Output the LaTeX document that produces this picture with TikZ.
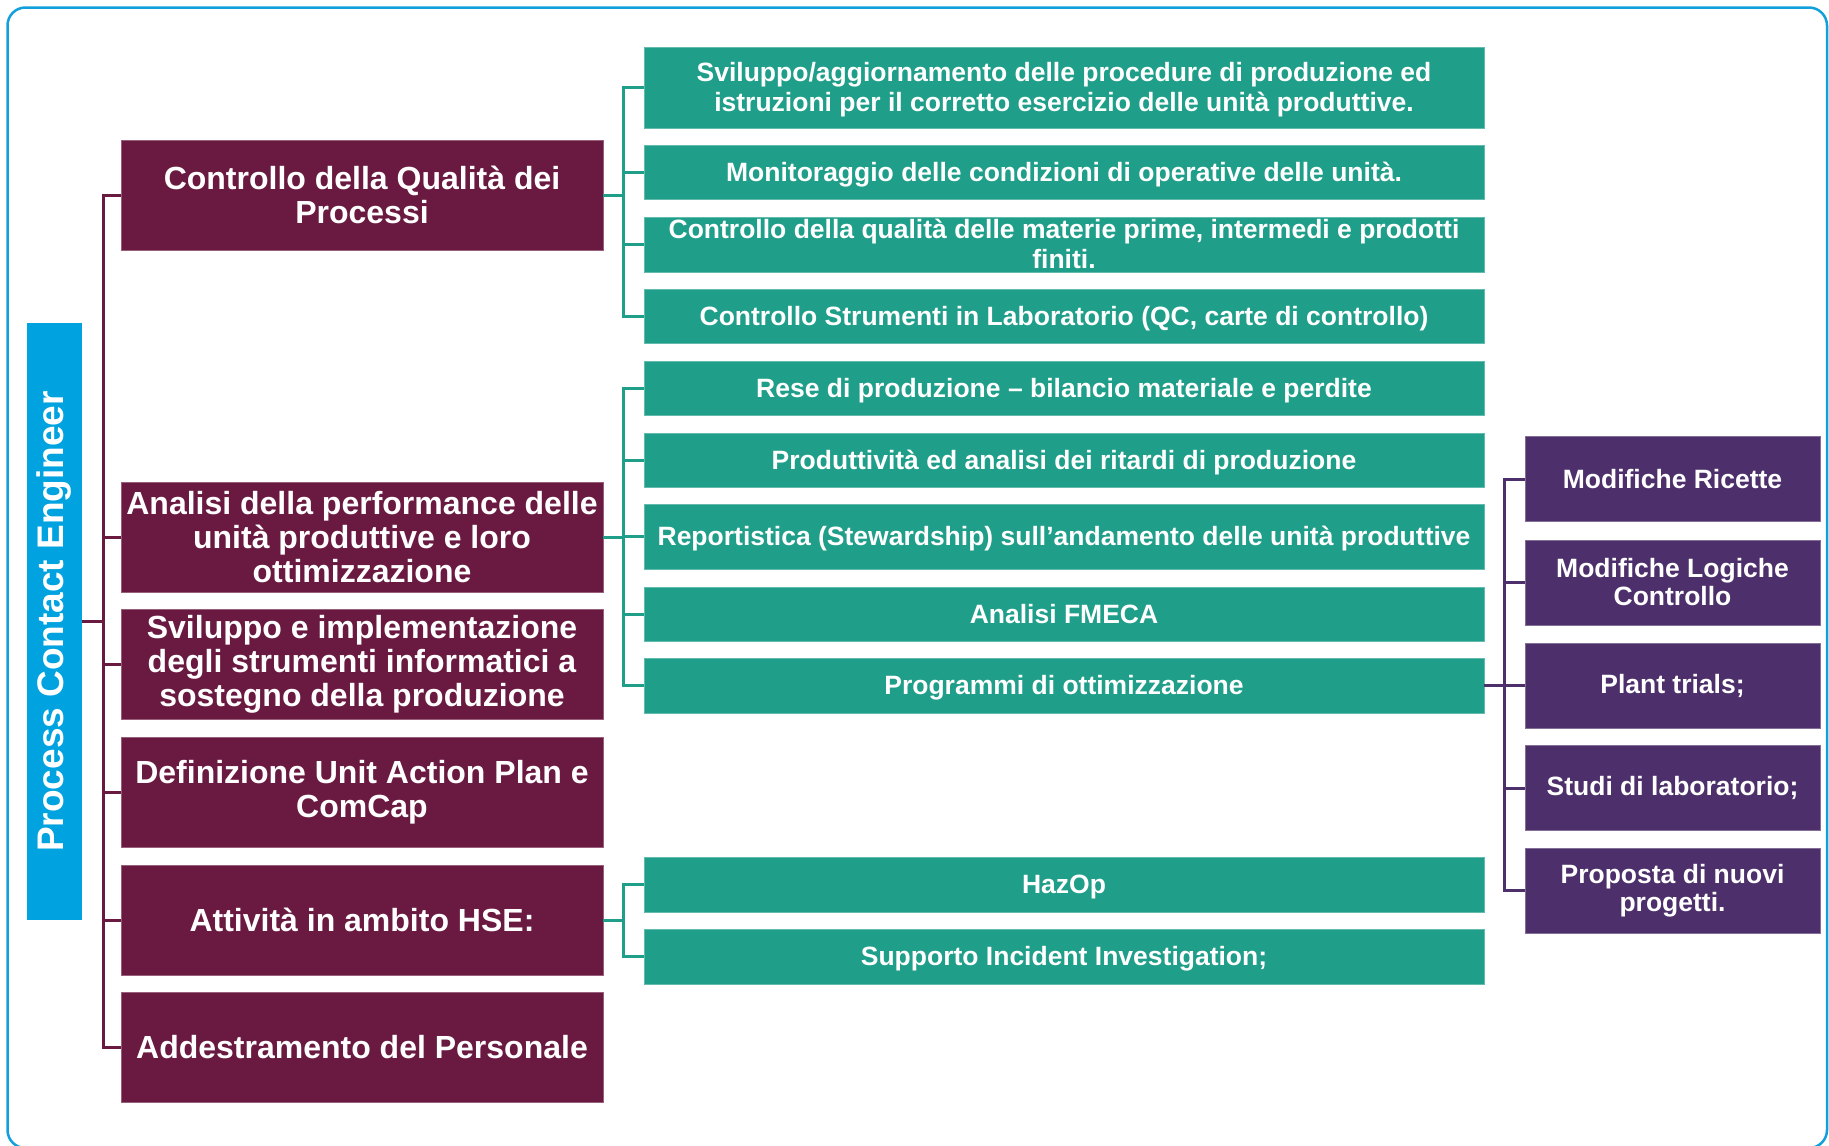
\documentclass[tikz,border=0pt]{standalone}
\usepackage{fontspec}
\setmainfont{Liberation Sans}
\definecolor{pceblue}{RGB}{0,163,224}
\definecolor{framecol}{RGB}{18,160,220}
\definecolor{actmaroon}{RGB}{106,26,65}
\definecolor{actgreen}{RGB}{31,158,137}
\definecolor{actpurple}{RGB}{77,48,107}
\tikzset{
  rootbox/.style={fill=pceblue, text=white, rotate=90, minimum width=597pt, minimum height=55pt, inner sep=0pt, font=\fontsize{37}{40}\selectfont\bfseries},
  mainbox/.style={fill=actmaroon, draw=actmaroon!70!white, line width=0.8pt, text=white, minimum width=482pt, minimum height=110pt, inner sep=0pt, align=center, font=\fontsize{32}{34}\selectfont\bfseries},
  taskbox/.style={fill=actgreen, draw=actgreen!70!white, line width=0.8pt, text=white, minimum width=840pt, minimum height=54pt, inner sep=0pt, text depth=1pt, align=center, font=\fontsize{26.5}{29.5}\selectfont\bfseries},
  subbox/.style={fill=actpurple, draw=actpurple!70!white, line width=0.8pt, text=white, minimum width=295pt, minimum height=85pt, inner sep=0pt, align=center, font=\fontsize{26.5}{28}\selectfont\bfseries},
  mline/.style={draw=actmaroon, line width=3pt},
  gline/.style={draw=actgreen, line width=3pt},
  pline/.style={draw=actpurple, line width=3pt}
}
\begin{document}
\begin{tikzpicture}[x=1pt,y=-1pt]
\useasboundingbox (0,0) rectangle (1829,1146);
\draw[framecol, line width=2.5pt, rounded corners=18pt] (7.5,7.5) rectangle (1827,1148);

\node[rootbox] (pce) at (54.5,621.5) {Process Contact Engineer};

\node[mainbox] (qual) at (362,195) {Controllo della Qualità dei\\Processi};
\node[mainbox] (perf) at (362,537) {Analisi della performance delle\\unità produttive e loro\\ottimizzazione};
\node[mainbox] (info) at (362,664.5) {Sviluppo e implementazione\\degli strumenti informatici a\\sostegno della produzione};
\node[mainbox] (uap) at (362,792) {Definizione Unit Action Plan e\\ComCap};
\node[mainbox] (hse) at (362,920) {Attività in ambito HSE:};
\node[mainbox] (train) at (362,1047.5) {Addestramento del Personale};

\node[taskbox, minimum height=81pt] (proc) at (1064,87.5) {Sviluppo/aggiornamento delle procedure di produzione ed\\istruzioni per il corretto esercizio delle unità produttive.};
\node[taskbox] (mon) at (1064,172) {Monitoraggio delle condizioni di operative delle unità.};
\node[taskbox, minimum height=55pt] (mat) at (1064,244.5) {Controllo della qualità delle materie prime, intermedi e prodotti\\finiti.};
\node[taskbox] (lab) at (1064,316) {Controllo Strumenti in Laboratorio (QC, carte di controllo)};
\node[taskbox] (rese) at (1064,388) {Rese di produzione – bilancio materiale e perdite};
\node[taskbox] (ritardi) at (1064,460) {Produttività ed analisi dei ritardi di produzione};
\node[taskbox, minimum height=65pt] (report) at (1064,536.5) {Reportistica (Stewardship) sull’andamento delle unità produttive};
\node[taskbox] (fmeca) at (1064,614) {Analisi FMECA};
\node[taskbox, minimum height=55pt] (prog) at (1064,685.5) {Programmi di ottimizzazione};
\node[taskbox, minimum height=55pt] (hazop) at (1064,884.5) {HazOp};
\node[taskbox, minimum height=55pt] (incid) at (1064,956.5) {Supporto Incident Investigation;};

\node[subbox] (ric) at (1672.5,479) {Modifiche Ricette};
\node[subbox] (logic) at (1672.5,582.5) {Modifiche Logiche\\Controllo};
\node[subbox] (trial) at (1672.5,685.5) {Plant trials;};
\node[subbox] (studi) at (1672.5,788) {Studi di laboratorio;};
\node[subbox] (nuovi) at (1672.5,890.5) {Proposta di nuovi\\progetti.};

\coordinate (mtrunk) at (103,0);
\coordinate (gtrunk) at (623,0);
\coordinate (ptrunk) at (1504,0);

\foreach \m in {qual,perf,info,uap,hse,train}
  \draw[mline] (pce.south) -- (pce.south -| mtrunk) |- (\m.west);
\foreach \t in {proc,mon,mat,lab}
  \draw[gline] (qual.east) -- (qual.east -| gtrunk) |- (\t.west);
\foreach \t in {rese,ritardi,report,fmeca,prog}
  \draw[gline] (perf.east) -- (perf.east -| gtrunk) |- (\t.west);
\foreach \t in {hazop,incid}
  \draw[gline] (hse.east) -- (hse.east -| gtrunk) |- (\t.west);
\foreach \s in {ric,logic,trial,studi,nuovi}
  \draw[pline] (prog.east) -- (prog.east -| ptrunk) |- (\s.west);
\end{tikzpicture}
\end{document}
